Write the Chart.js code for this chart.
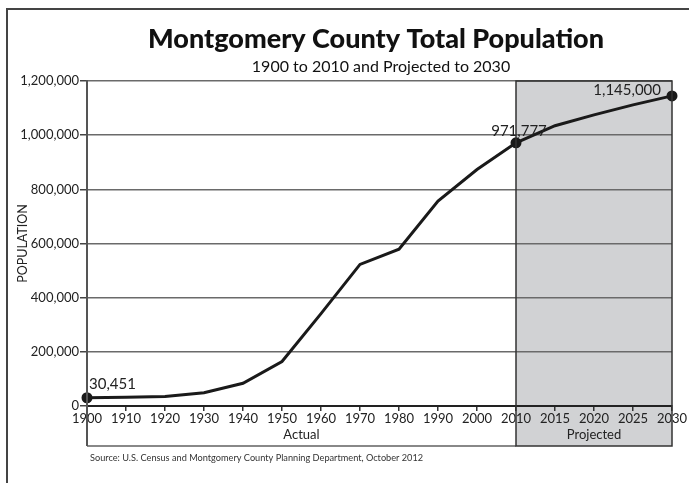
<!DOCTYPE html>
<html>
<head>
<meta charset="utf-8">
<script src="https://cdn.jsdelivr.net/npm/chart.js@4.4.1/dist/chart.umd.min.js"></script>
<style>
  body { margin: 0; background: #fff; }
  #wrap { width: 689px; height: 483px; }
</style>
</head>
<body>
<div id="wrap"><canvas id="chart" width="689" height="483"></canvas></div>
<script>
const years = ['1900', '1910', '1920', '1930', '1940', '1950', '1960', '1970', '1980', '1990', '2000', '2010', '2015', '2020', '2025', '2030'];
const population = [30451, 32089, 34921, 49206, 83912, 164401, 340928, 522809, 579053, 757027, 873341, 971777, 1035000, 1075000, 1112000, 1145000];
const labelledYears = ['1900', '2010', '2030'];
const actualRange = ['1900', '2010'];
const projectedRange = ['2010', '2030'];

const fmt = v => v.toLocaleString('en-US');
const FONT = 'Lato, "Open Sans", sans-serif';

// frame, titles, shaded projection box and section labels
const decor = {
  id: 'decor',
  beforeDraw(chart) {
    const { ctx, scales: { x, y } } = chart;
    const top = y.getPixelForValue(1200000);
    const bottom = y.getPixelForValue(0) + 40;
    const p0 = x.getPixelForValue(years.indexOf(projectedRange[0]));
    const p1 = x.getPixelForValue(years.indexOf(projectedRange[1]));
    ctx.save();
    ctx.fillStyle = '#d1d2d4';
    ctx.fillRect(p0, top, p1 - p0, bottom - top);
    ctx.restore();
  },
  afterDraw(chart) {
    const { ctx, scales: { x, y } } = chart;
    const top = y.getPixelForValue(1200000);
    const zero = y.getPixelForValue(0);
    const bottom = zero + 40;
    const a0 = x.getPixelForValue(years.indexOf(actualRange[0]));
    const a1 = x.getPixelForValue(years.indexOf(actualRange[1]));
    const p1 = x.getPixelForValue(years.indexOf(projectedRange[1]));
    ctx.save();
    // outer frame
    ctx.strokeStyle = '#444';
    ctx.lineWidth = 2;
    ctx.beginPath();
    ctx.moveTo(689, 9); ctx.lineTo(7, 9); ctx.lineTo(7, 483);
    ctx.stroke();
    // bottom of actual section
    ctx.strokeStyle = '#888';
    ctx.beginPath();
    ctx.moveTo(a0, bottom); ctx.lineTo(a1, bottom);
    ctx.stroke();
    // left axis extension
    ctx.strokeStyle = '#555';
    ctx.beginPath();
    ctx.moveTo(a0, top); ctx.lineTo(a0, bottom);
    ctx.stroke();
    // projection box
    ctx.strokeStyle = '#333';
    ctx.lineWidth = 1.5;
    ctx.strokeRect(a1, top, p1 - a1, bottom - top);
    // section labels
    ctx.fillStyle = '#222';
    ctx.font = '13px ' + FONT;
    ctx.textAlign = 'center';
    ctx.textBaseline = 'middle';
    ctx.fillText('Actual', (a0 + a1) / 2, zero + 29);
    ctx.fillText('Projected', (a1 + p1) / 2, zero + 29);
    // titles
    ctx.fillStyle = '#111';
    ctx.font = '900 27px ' + FONT;
    ctx.textBaseline = 'alphabetic';
    ctx.fillText('Montgomery County Total Population', 376, 48);
    ctx.font = '16px ' + FONT;
    ctx.fillText('1900 to 2010 and Projected to 2030', 381, 72);
    // source
    ctx.font = '9.2px ' + FONT;
    ctx.textAlign = 'left';
    ctx.fillStyle = '#333';
    ctx.fillText('Source: U.S. Census and Montgomery County Planning Department, October 2012', 90, 461);
    ctx.restore();
  },
  afterDatasetsDraw(chart) {
    const { ctx } = chart;
    const pts = chart.getDatasetMeta(0).data;
    ctx.save();
    ctx.fillStyle = '#222';
    ctx.font = '15px ' + FONT;
    ctx.textBaseline = 'alphabetic';
    labelledYears.forEach((yr, n) => {
      const i = years.indexOf(yr);
      const pt = pts[i];
      const txt = fmt(population[i]);
      if (n === 0) { ctx.textAlign = 'left'; ctx.fillText(txt, pt.x + 2, pt.y - 9); }
      else if (n === labelledYears.length - 1) { ctx.textAlign = 'right'; ctx.fillText(txt, pt.x - 11, pt.y - 1); }
      else { ctx.textAlign = 'center'; ctx.fillText(txt, pt.x + 3, pt.y - 7); }
    });
    ctx.restore();
  }
};

new Chart(document.getElementById('chart'), {
  type: 'line',
  data: {
    labels: years,
    datasets: [{
      data: population,
      borderColor: '#1a1a1a',
      backgroundColor: '#1a1a1a',
      borderWidth: 3,
      tension: 0,
      pointRadius: c => labelledYears.includes(years[c.dataIndex]) ? 4 : 0,
      pointHoverRadius: 0
    }]
  },
  options: {
    responsive: false,
    animation: false,
    events: [],
    layout: { padding: { top: 81, left: 0, right: 17, bottom: 37 } },
    plugins: { legend: { display: false }, tooltip: { enabled: false } },
    scales: {
      x: {
        type: 'category',
        offset: false,
        afterFit: s => { s.height = 40; },
        grid: { drawOnChartArea: false, tickLength: 5, tickColor: '#333', lineWidth: 1.5 },
        border: { color: '#222', width: 2 },
        ticks: { color: '#222', font: { family: FONT, size: 13 }, padding: 0, autoSkip: false, maxRotation: 0 }
      },
      y: {
        min: 0,
        max: 1200000,
        afterFit: s => { s.width = 87; },
        grid: { color: '#6a6a6a', lineWidth: 1.5, tickLength: 7, tickColor: '#444' },
        border: { color: '#555', width: 2 },
        ticks: { stepSize: 200000, color: '#222', font: { family: FONT, size: 13 }, padding: 1, callback: v => fmt(v) },
        title: { display: true, text: 'POPULATION', color: '#222', font: { family: FONT, size: 12.5 }, padding: { top: 15, bottom: 0 } }
      }
    }
  },
  plugins: [decor]
});
</script>
</body>
</html>
